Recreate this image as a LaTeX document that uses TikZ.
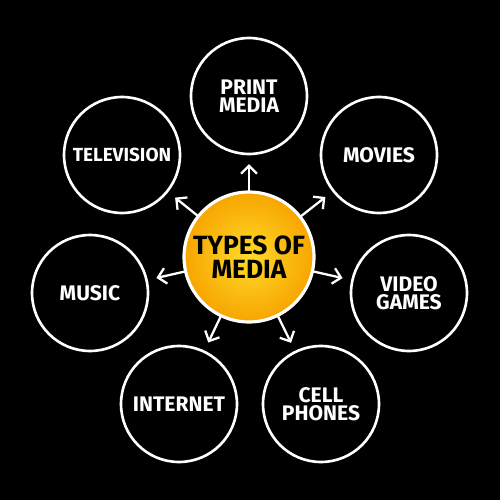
\documentclass[tikz,border=0pt]{standalone}
\usepackage{fontspec}
\setmainfont{Fira Sans}
\usetikzlibrary{arrows.meta}
\definecolor{hubouter}{HTML}{F7A500}
\definecolor{hubinner}{HTML}{FFDA2A}
\begin{document}
\begin{tikzpicture}[x=0.02cm,y=-0.02cm,
        topic/.style={circle,draw=white,line width=1.5pt,minimum size=2.32cm,
            inner sep=0pt,text=white,align=center,
            font=\bfseries\fontsize{12}{10.5}\selectfont},
        hub/.style={circle,draw=white,line width=1.8pt,minimum size=2.6cm,
            inner sep=0pt,shading=radial,inner color=hubinner,outer color=hubouter,
            align=center,font=\bfseries\fontsize{15}{13.5}\selectfont},
        link/.style={-{Straight Barb[length=4.5pt,width=9pt]},white,line width=1.3pt,
            shorten >=5pt,shorten <=-1pt}]
	\fill[black] (0,0) rectangle (500,500);

\node[hub] (types) at (249,257) {TYPES OF\\MEDIA};

\node[topic] (print) at (249,96) {PRINT\\MEDIA};
\node[topic] (movies) at (379,155) {MOVIES};
\node[topic] (games) at (409,293) {VIDEO\\GAMES};
\node[topic] (phones) at (321,404) {CELL\\PHONES};
\node[topic] (internet) at (179,404) {INTERNET};
\node[topic] (music) at (90,293) {MUSIC};
\node[topic,font=\bfseries\fontsize{10.8}{10.5}\selectfont] (tv) at (122,155) {TELEVISION};

	\draw[link] (types) -- (print);
	\draw[link] (types) -- (movies);
	\draw[link] (types) -- (games);
	\draw[link] (types) -- (phones);
	\draw[link] (types) -- (internet);
	\draw[link] (types) -- (music);
	\draw[link] (types) -- (tv);
\end{tikzpicture}
\end{document}
